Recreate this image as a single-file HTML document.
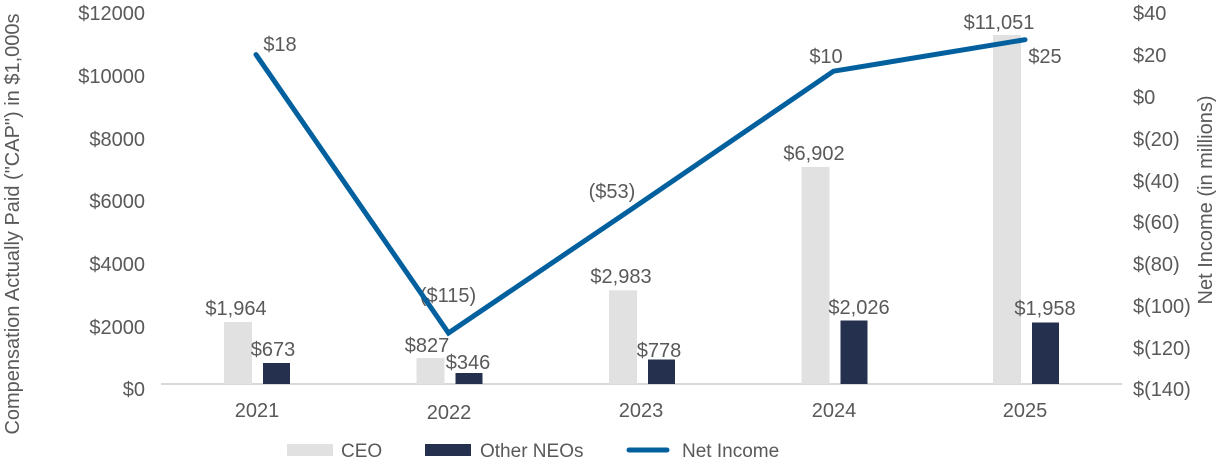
<!DOCTYPE html>
<html><head><meta charset="utf-8"><style>
body{margin:0;background:#fff;}
svg text{font-family:"Liberation Sans",Arial,sans-serif;fill:#595959;font-size:20px;}
</style></head><body>
<svg width="1216" height="466" viewBox="0 0 1216 466" xmlns="http://www.w3.org/2000/svg">
<g text-anchor="end">
<text x="145" y="20">$12000</text>
<text x="145" y="83">$10000</text>
<text x="145" y="146">$8000</text>
<text x="145" y="208">$6000</text>
<text x="145" y="271">$4000</text>
<text x="145" y="334">$2000</text>
<text x="145" y="396">$0</text>
</g>
<g text-anchor="start">
<text x="1133" y="20">$40</text>
<text x="1133" y="62">$20</text>
<text x="1133" y="104">$0</text>
<text x="1133" y="146">$(20)</text>
<text x="1133" y="188">$(40)</text>
<text x="1133" y="229">$(60)</text>
<text x="1133" y="271">$(80)</text>
<text x="1133" y="313">$(100)</text>
<text x="1133" y="355">$(120)</text>
<text x="1133" y="396">$(140)</text>
</g>
<text transform="translate(19,224) rotate(-90)" text-anchor="middle">Compensation Actually Paid ("CAP") in $1,000s</text>
<text transform="translate(1212,200) rotate(-90)" text-anchor="middle">Net Income (in millions)</text>
<line x1="161" y1="384" x2="1122" y2="384" stroke="#d9d9d9" stroke-width="2"/>
<g fill="#e0e1e0">
<rect x="224" y="322" width="28" height="62"/>
<rect x="416.5" y="358" width="28" height="26"/>
<rect x="609" y="290.3" width="28" height="93.7"/>
<rect x="801.5" y="167" width="28" height="217"/>
<rect x="993" y="35" width="28" height="349"/>
</g>
<g fill="#24304d">
<rect x="263" y="363" width="27" height="21"/>
<rect x="455.5" y="373" width="27" height="11"/>
<rect x="648" y="359.5" width="27" height="24.5"/>
<rect x="840.5" y="320.5" width="27" height="63.5"/>
<rect x="1032" y="322.5" width="27" height="61.5"/>
</g>
<g text-anchor="middle">
<text x="236" y="315">$1,964</text>
<text x="273" y="356">$673</text>
<text x="427" y="352">$827</text>
<text x="468" y="369">$346</text>
<text x="621" y="283">$2,983</text>
<text x="659" y="357">$778</text>
<text x="814" y="160">$6,902</text>
<text x="859" y="314">$2,026</text>
<text x="999" y="29">$11,051</text>
<text x="1045" y="315">$1,958</text>
<text x="280" y="51">$18</text>
<text x="448" y="302">($115)</text>
<text x="612" y="198">($53)</text>
<text x="826" y="63">$10</text>
<text x="1045" y="63">$25</text>
</g>
<polyline points="256,54.6 448.5,333 641,202.7 833.5,71.2 1025,39.7" fill="none" stroke="#02609e" stroke-width="5" stroke-linejoin="miter" stroke-linecap="round"/>
<g text-anchor="middle">
<text x="257" y="417">2021</text>
<text x="449" y="419">2022</text>
<text x="641" y="417">2023</text>
<text x="834" y="417">2024</text>
<text x="1025" y="417">2025</text>
</g>
<rect x="287" y="444" width="46" height="12" fill="#e0e1e0"/>
<text x="341" y="457" style="font-size:19px">CEO</text>
<rect x="425" y="444" width="46" height="12" fill="#24304d"/>
<text x="480" y="457" style="font-size:19px">Other NEOs</text>
<line x1="629" y1="450" x2="667" y2="450" stroke="#02609e" stroke-width="5" stroke-linecap="round"/>
<text x="682" y="457" style="font-size:19px">Net Income</text>
</svg>
</body></html>
